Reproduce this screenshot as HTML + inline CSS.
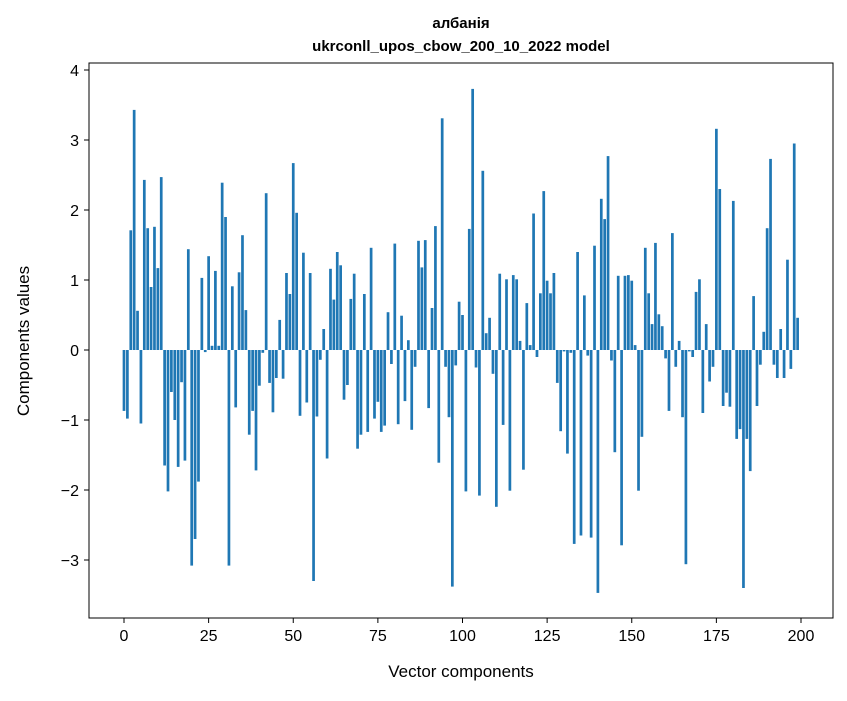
<!DOCTYPE html>
<html><head><meta charset="utf-8"><style>
body{margin:0;background:#fff;}
svg text{font-family:"Liberation Sans","DejaVu Sans",sans-serif;fill:#000;}
</style></head><body>
<svg id="chart" width="847" height="696" xmlns="http://www.w3.org/2000/svg">
<rect width="847" height="696" fill="#fff"/>
<text x="461" y="28" font-size="15" font-weight="bold" text-anchor="middle">албанія</text>
<text x="461" y="51" font-size="15" font-weight="bold" text-anchor="middle">ukrconll_upos_cbow_200_10_2022 model</text>
<g id="bars"></g>
<g id="axes"></g>
<rect x="89" y="63" width="744" height="555" fill="none" stroke="#000" stroke-width="1"/>
<text x="461" y="677" font-size="17" text-anchor="middle">Vector components</text>
<text transform="translate(29,341) rotate(-90)" font-size="17" text-anchor="middle">Components values</text>
</svg>
<script>
const values = [-0.87,-0.98,1.71,3.43,0.56,-1.05,2.43,1.74,0.9,1.76,1.17,2.47,-1.65,-2.02,-0.6,-1.0,-1.67,-0.46,-1.58,1.44,
-3.08,-2.7,-1.88,1.03,-0.03,1.34,0.06,1.13,0.06,2.39,1.9,-3.08,0.91,-0.82,1.11,1.64,0.57,-1.21,-0.87,-1.72,
-0.51,-0.04,2.24,-0.47,-0.89,-0.4,0.43,-0.41,1.1,0.8,2.67,1.96,-0.94,1.39,-0.75,1.1,-3.3,-0.95,-0.14,0.3,
-1.55,1.16,0.72,1.4,1.21,-0.71,-0.5,0.73,1.09,-1.41,-1.21,0.8,-1.17,1.46,-0.98,-0.74,-1.17,-1.08,0.54,-0.2,
1.52,-1.06,0.49,-0.73,0.14,-1.14,-0.24,1.56,1.18,1.57,-0.83,0.6,1.77,-1.61,3.31,-0.24,-0.96,-3.38,-0.22,0.69,
0.5,-2.02,1.73,3.73,-0.25,-2.08,2.56,0.24,0.46,-0.34,-2.24,1.09,-1.07,1.01,-2.01,1.07,1.01,0.13,-1.71,0.67,
0.07,1.95,-0.1,0.81,2.27,0.99,0.81,1.1,-0.47,-1.16,-0.02,-1.48,-0.04,-2.77,1.4,-2.65,0.78,-0.08,-2.68,1.49,
-3.47,2.16,1.87,2.77,-0.15,-1.46,1.06,-2.79,1.06,1.07,0.99,0.07,-2.01,-1.24,1.46,0.81,0.37,1.53,0.51,0.34,
-0.12,-0.87,1.67,-0.24,0.13,-0.96,-3.06,-0.02,-0.1,0.83,1.01,-0.9,0.37,-0.45,-0.24,3.16,2.3,-0.8,-0.61,-0.81,
2.13,-1.27,-1.13,-3.4,-1.27,-1.73,0.77,-0.8,-0.21,0.26,1.74,2.73,-0.21,-0.4,0.3,-0.4,1.29,-0.27,2.95,0.46];
const xTicks = [0,25,50,75,100,125,150,175,200];
const yTicks = [-3,-2,-1,0,1,2,3,4];
const NS="http://www.w3.org/2000/svg";
const X0=124, XS=(801-124)/200, Y0=350, YS=70;
function xs(v){return X0+v*XS;}
function ys(v){return Y0-v*YS;}
const bars=document.getElementById('bars');
values.forEach((v,i)=>{
  const r=document.createElementNS(NS,'rect');
  
  
  const w=0.8*XS;
  r.setAttribute('x',xs(i)-w/2);
  r.setAttribute('width',w);
  r.setAttribute('y',Math.min(ys(v),ys(0)));
  r.setAttribute('height',Math.abs(ys(v)-ys(0)));
  r.setAttribute('fill','#1f77b4');
  bars.appendChild(r);
});
const axes=document.getElementById('axes');
xTicks.forEach(t=>{
  const l=document.createElementNS(NS,'line');
  
  
  l.setAttribute('x1',xs(t));l.setAttribute('x2',xs(t));
  l.setAttribute('y1',618);l.setAttribute('y2',623);
  l.setAttribute('stroke','#000');
  axes.appendChild(l);
  const tx=document.createElementNS(NS,'text');
  
  
  tx.setAttribute('x',xs(t));tx.setAttribute('y',641);
  tx.setAttribute('font-size','16');tx.setAttribute('text-anchor','middle');
  tx.textContent=t;
  axes.appendChild(tx);
});
yTicks.forEach(t=>{
  const l=document.createElementNS(NS,'line');
  
  
  l.setAttribute('x1',84);l.setAttribute('x2',89);
  l.setAttribute('y1',ys(t));l.setAttribute('y2',ys(t));
  l.setAttribute('stroke','#000');
  axes.appendChild(l);
  const tx=document.createElementNS(NS,'text');
  
  
  tx.setAttribute('x',79);tx.setAttribute('y',ys(t)+6);
  tx.setAttribute('font-size','16');tx.setAttribute('text-anchor','end');
  tx.textContent=(t<0?'\u2212'+Math.abs(t):String(t));
  axes.appendChild(tx);
});
</script>
</body></html>
